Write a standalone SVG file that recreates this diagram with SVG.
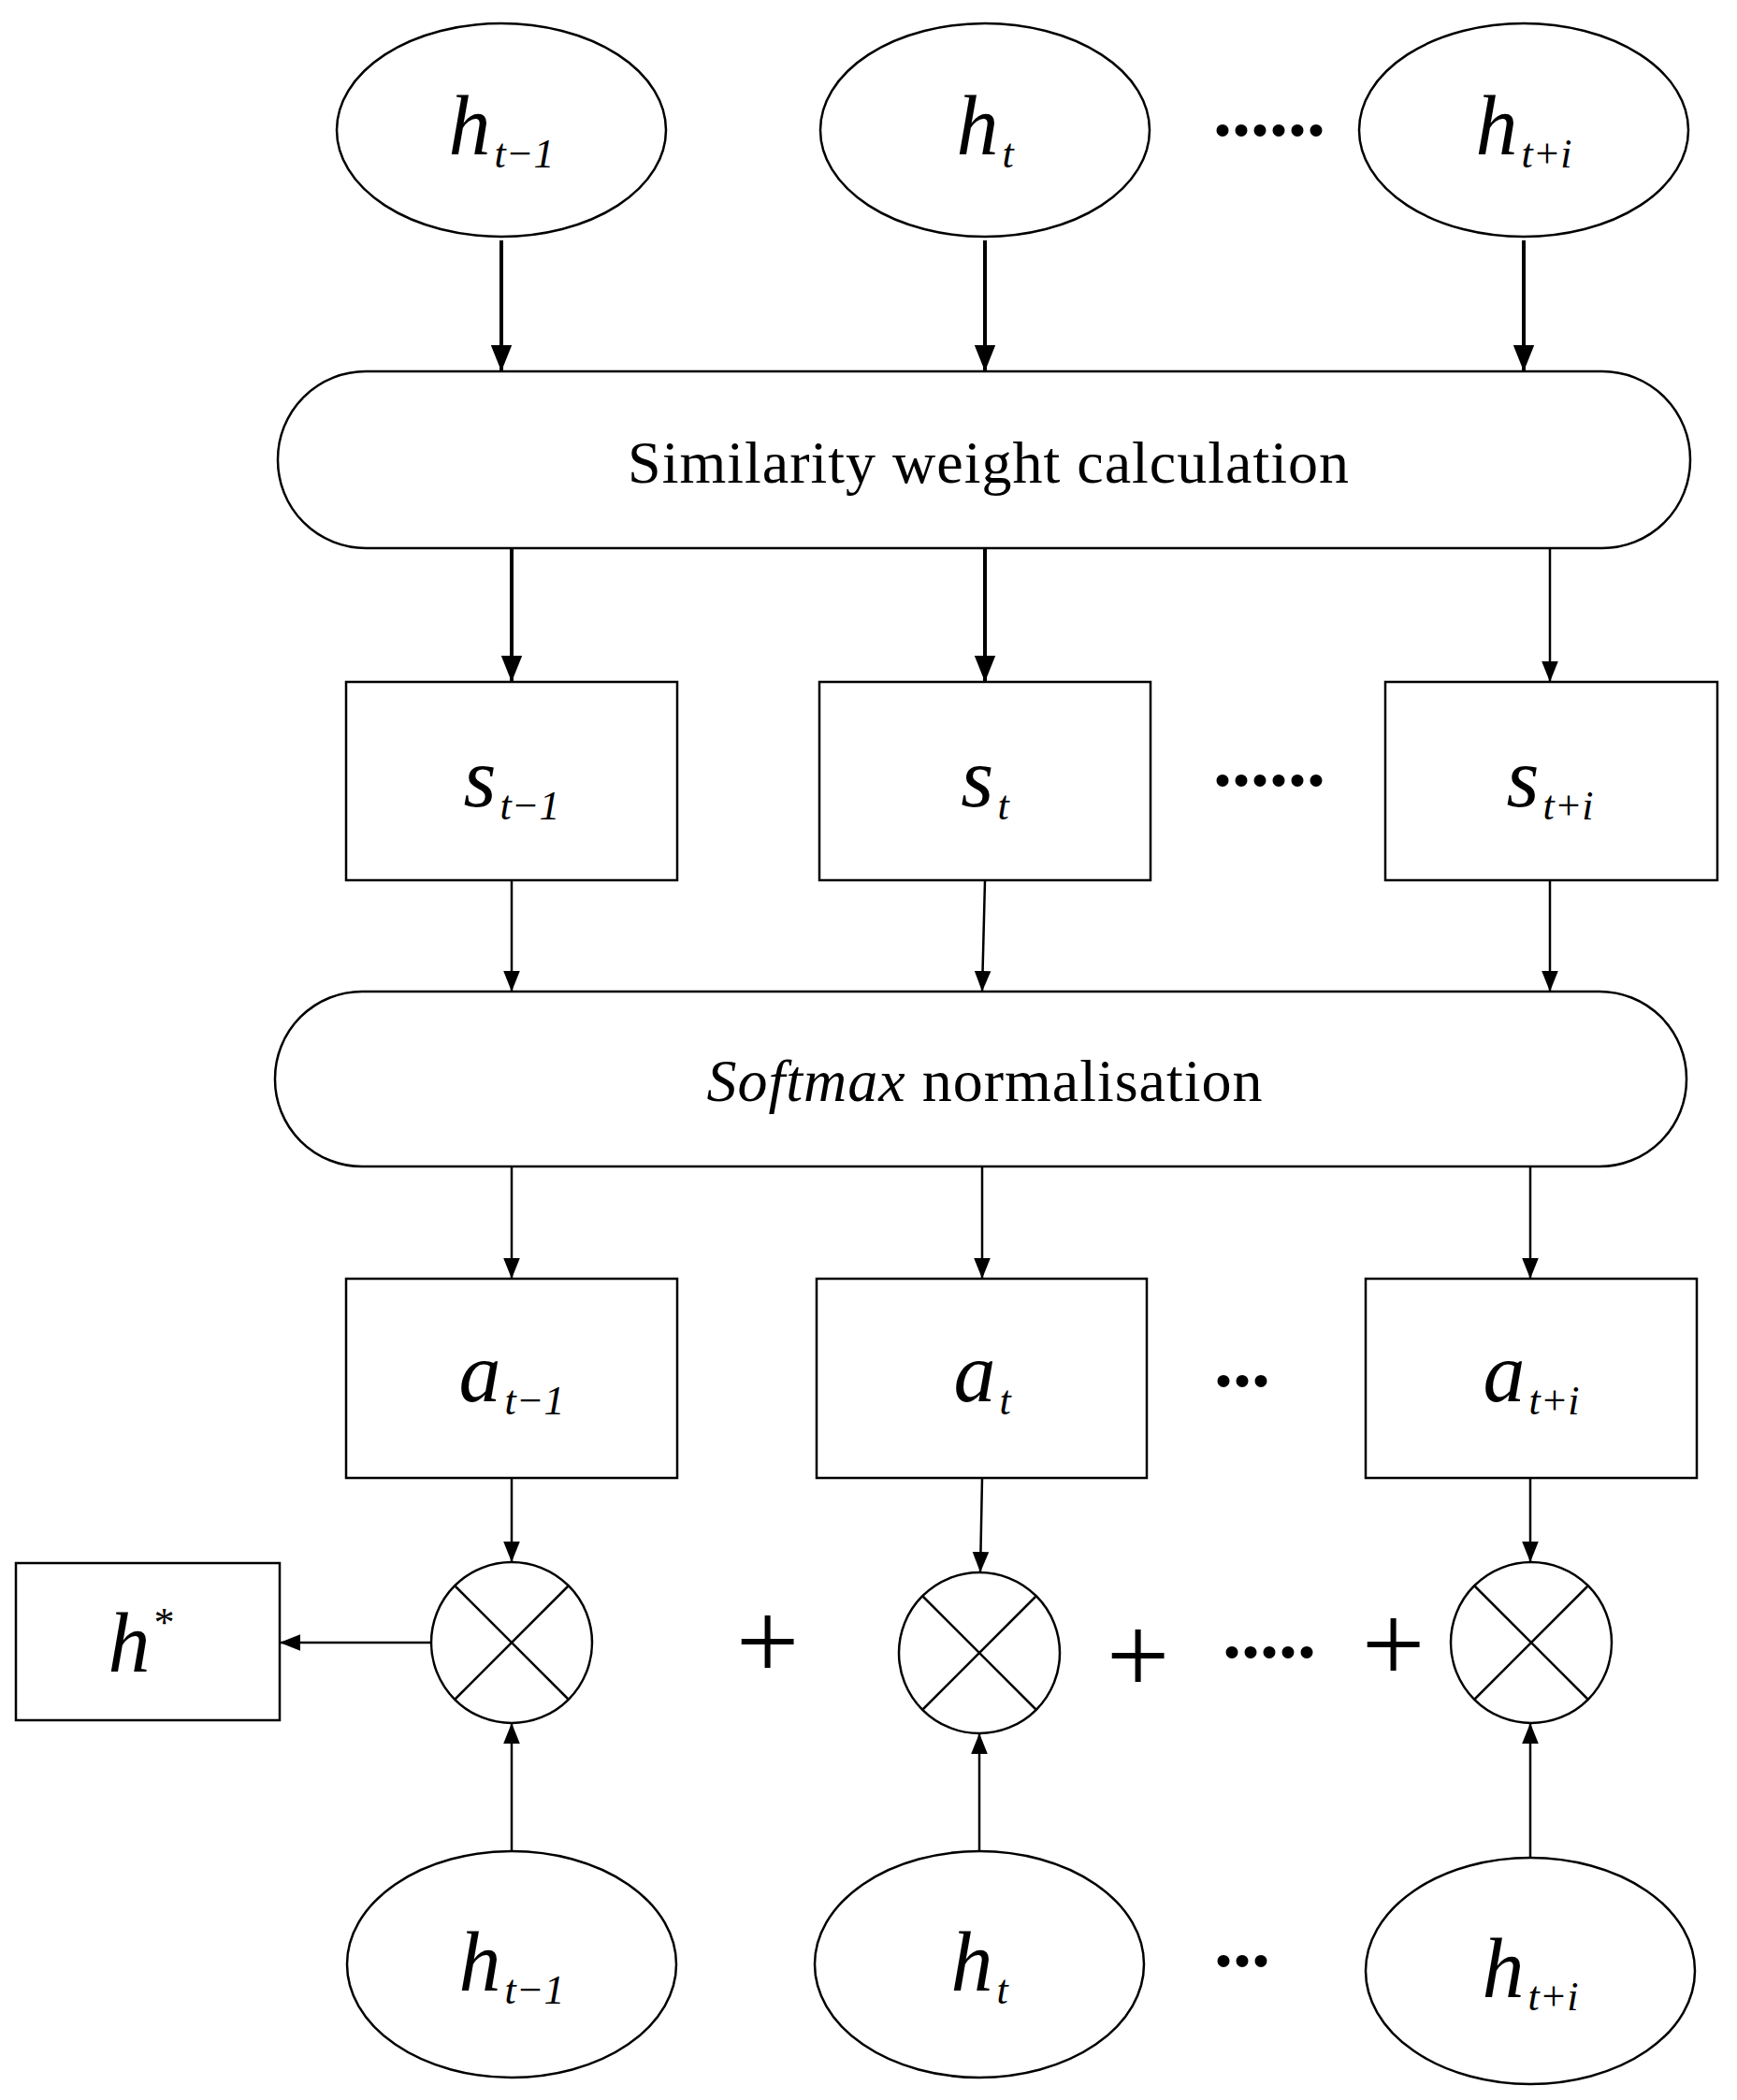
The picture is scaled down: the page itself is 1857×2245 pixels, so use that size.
<svg xmlns="http://www.w3.org/2000/svg" width="1857" height="2245" viewBox="0 0 1857 2245">
<defs>
<marker id="ah" viewBox="0 0 10 10" refX="10" refY="5" markerWidth="22" markerHeight="22" markerUnits="userSpaceOnUse" orient="auto"><path d="M0,1 L10,5 L0,9 Z" fill="#000"/></marker>
<marker id="ahb" viewBox="0 0 10 10" refX="10" refY="5" markerWidth="28" markerHeight="28" markerUnits="userSpaceOnUse" orient="auto"><path d="M0,1 L10,5 L0,9 Z" fill="#000"/></marker>
</defs>
<style>
.s{fill:#fff;stroke:#000;stroke-width:2.5}
.m{font-family:"Liberation Serif","Times New Roman",serif;font-style:italic;font-size:90px;text-anchor:middle}
.sub{font-size:44px}
.t{font-family:"Liberation Serif","Times New Roman",serif;font-size:64px;text-anchor:middle;letter-spacing:1px}
.d{font-family:"Liberation Serif","Times New Roman",serif;font-size:80px;font-weight:bold;text-anchor:middle}
.c{stroke:#000;fill:none}
.thick{stroke-width:4}
.thin{stroke-width:2.5}
</style>
<rect width="1857" height="2245" fill="#fff"/>
<g id="connectors">
<line class="c thick" x1="536" y1="257" x2="536" y2="397" marker-end="url(#ahb)"/>
<line class="c thick" x1="1053" y1="257" x2="1053" y2="397" marker-end="url(#ahb)"/>
<line class="c thick" x1="1629" y1="257" x2="1629" y2="397" marker-end="url(#ahb)"/>
<line class="c thick" x1="547" y1="586" x2="547" y2="729" marker-end="url(#ahb)"/>
<line class="c thick" x1="1053" y1="586" x2="1053" y2="729" marker-end="url(#ahb)"/>
<line class="c thin" x1="1657" y1="586" x2="1657" y2="729" marker-end="url(#ah)"/>
<line class="c thin" x1="547" y1="941" x2="547" y2="1060" marker-end="url(#ah)"/>
<line class="c thin" x1="1053" y1="941" x2="1050" y2="1060" marker-end="url(#ah)"/>
<line class="c thin" x1="1657" y1="941" x2="1657" y2="1060" marker-end="url(#ah)"/>
<line class="c thin" x1="547" y1="1247" x2="547" y2="1367" marker-end="url(#ah)"/>
<line class="c thin" x1="1050" y1="1247" x2="1050" y2="1367" marker-end="url(#ah)"/>
<line class="c thin" x1="1636" y1="1247" x2="1636" y2="1367" marker-end="url(#ah)"/>
<line class="c thin" x1="547" y1="1580" x2="547" y2="1670" marker-end="url(#ah)"/>
<line class="c thin" x1="1050" y1="1580" x2="1048" y2="1681" marker-end="url(#ah)"/>
<line class="c thin" x1="1636" y1="1580" x2="1636" y2="1670" marker-end="url(#ah)"/>
<line class="c thin" x1="461" y1="1756" x2="299" y2="1756" marker-end="url(#ah)"/>
<line class="c thin" x1="547" y1="1980" x2="547" y2="1842" marker-end="url(#ah)"/>
<line class="c thin" x1="1047" y1="1980" x2="1047" y2="1853" marker-end="url(#ah)"/>
<line class="c thin" x1="1636" y1="1987" x2="1636" y2="1842" marker-end="url(#ah)"/>
</g>
<g id="h1"><ellipse class="s" cx="536" cy="139" rx="176" ry="114"/><text class="m" x="536" y="165">h<tspan class="sub" dx="4" dy="14">t−1</tspan></text></g>
<g id="h2"><ellipse class="s" cx="1053" cy="139" rx="176" ry="114"/><text class="m" x="1053" y="165">h<tspan class="sub" dx="4" dy="14">t</tspan></text></g>
<g id="h3"><ellipse class="s" cx="1629" cy="139" rx="176" ry="114"/><text class="m" x="1629" y="165">h<tspan class="sub" dx="4" dy="14">t+i</tspan></text></g>
<text class="d" x="1357" y="145">......</text>
<g id="sim"><rect class="s" x="297" y="397" width="1510" height="189" rx="94"/><text class="t" x="1057" y="516">Similarity weight calculation</text></g>
<g id="s1"><rect class="s" x="370" y="729" width="354" height="212"/><text class="m" x="547" y="862">s<tspan class="sub" dx="4" dy="14">t−1</tspan></text></g>
<g id="s2"><rect class="s" x="876" y="729" width="354" height="212"/><text class="m" x="1053" y="862">s<tspan class="sub" dx="4" dy="14">t</tspan></text></g>
<g id="s3"><rect class="s" x="1481" y="729" width="355" height="212"/><text class="m" x="1657" y="862">s<tspan class="sub" dx="4" dy="14">t+i</tspan></text></g>
<text class="d" x="1357" y="840">......</text>
<g id="soft"><rect class="s" x="294" y="1060" width="1509" height="187" rx="93"/><text class="t" x="1053" y="1177"><tspan font-style="italic">Softmax</tspan> normalisation</text></g>
<g id="a1"><rect class="s" x="370" y="1367" width="354" height="213"/><text class="m" x="547" y="1498">a<tspan class="sub" dx="4" dy="14">t−1</tspan></text></g>
<g id="a2"><rect class="s" x="873" y="1367" width="353" height="213"/><text class="m" x="1050" y="1498">a<tspan class="sub" dx="4" dy="14">t</tspan></text></g>
<g id="a3"><rect class="s" x="1460" y="1367" width="354" height="213"/><text class="m" x="1637" y="1498">a<tspan class="sub" dx="4" dy="14">t+i</tspan></text></g>
<text class="d" x="1328" y="1482">...</text>
<g id="x1"><circle class="s" cx="547" cy="1756" r="86"/><path class="c thin" d="M486,1695 L608,1817 M608,1695 L486,1817"/></g>
<g id="x2"><circle class="s" cx="1047" cy="1767" r="86"/><path class="c thin" d="M986,1706 L1108,1828 M1108,1706 L986,1828"/></g>
<g id="x3"><circle class="s" cx="1637" cy="1756" r="86"/><path class="c thin" d="M1576,1695 L1698,1817 M1698,1695 L1576,1817"/></g>
<g id="hstar"><rect class="s" x="17" y="1671" width="282" height="168"/><text class="m" x="150" y="1787">h<tspan class="sub" dx="2" dy="-38">*</tspan></text></g>
<text class="t" x="821" y="1795" style="font-size:120px">+</text>
<text class="t" x="1217" y="1810" style="font-size:120px">+</text>
<text class="t" x="1490" y="1798" style="font-size:120px">+</text>
<text class="d" x="1357" y="1772">.....</text>
<g id="b1"><ellipse class="s" cx="547" cy="2100" rx="176" ry="121"/><text class="m" x="547" y="2128">h<tspan class="sub" dx="4" dy="14">t−1</tspan></text></g>
<g id="b2"><ellipse class="s" cx="1047" cy="2100" rx="176" ry="121"/><text class="m" x="1047" y="2128">h<tspan class="sub" dx="4" dy="14">t</tspan></text></g>
<g id="b3"><ellipse class="s" cx="1636" cy="2107" rx="176" ry="121"/><text class="m" x="1636" y="2135">h<tspan class="sub" dx="4" dy="14">t+i</tspan></text></g>
<text class="d" x="1328" y="2102">...</text>
</svg>
